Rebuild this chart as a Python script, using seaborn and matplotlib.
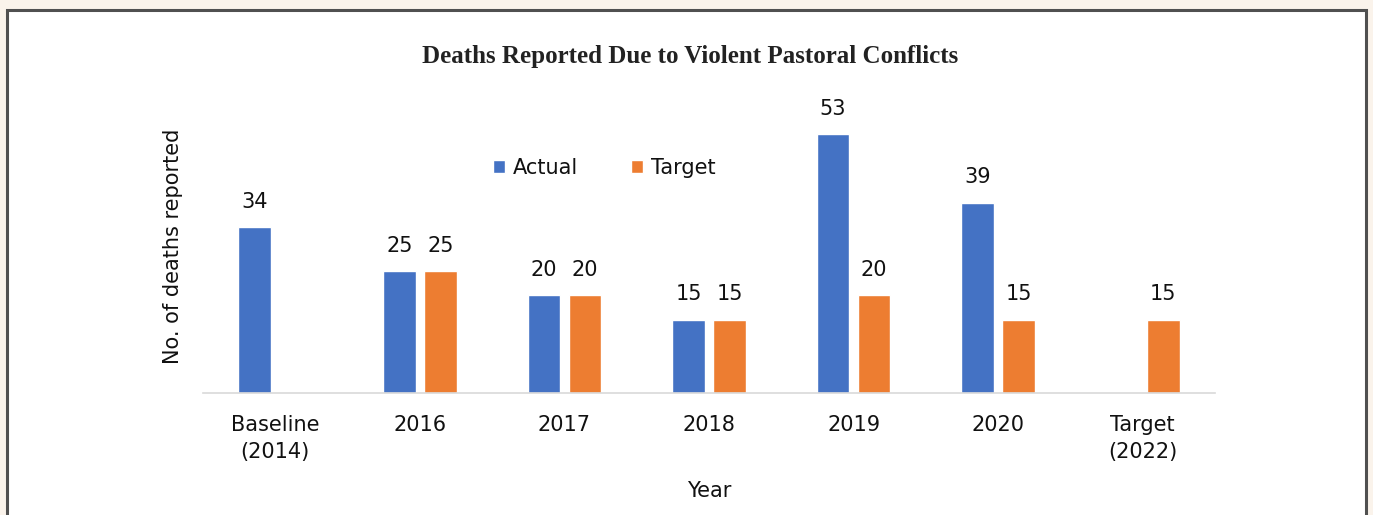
import matplotlib
matplotlib.use("Agg")
import matplotlib.pyplot as plt
import matplotlib.patches as mpatches
import seaborn as sns
import pandas as pd

categories = ["Baseline\n(2014)", "2016", "2017", "2018", "2019", "2020", "Target\n(2022)"]
actual = [34, 25, 20, 15, 53, 39, None]
target = [None, 25, 20, 15, 20, 15, 15]
series_names = ["Actual", "Target"]
colors = {"Actual": "#4472C4", "Target": "#ED7D31"}

rows = []
for cat, a, t in zip(categories, actual, target):
    if a is not None:
        rows.append({"Year": cat, "Series": "Actual", "Value": a})
    if t is not None:
        rows.append({"Year": cat, "Series": "Target", "Value": t})
df = pd.DataFrame(rows)

sns.set_theme(style="white")
plt.rcParams["font.family"] = ["DejaVu Sans"]

W, H = 1373, 515
fig = plt.figure(figsize=(W / 100, H / 100), dpi=100)
fig.patch.set_facecolor("#faf3eb")

# white panel with dark border
panel = mpatches.Rectangle((7 / W, -0.05), (1366 - 7) / W, 1 - 10 / H + 0.05,
                           transform=fig.transFigure, facecolor="white",
                           edgecolor="#505050", linewidth=2.2, zorder=-10)
fig.patches.append(panel)

ax = fig.add_axes([203 / W, 1 - 393 / H, (1215 - 203) / W, 293 / H], zorder=5)
ax.set_facecolor("none")

sns.barplot(data=df, x="Year", y="Value", hue="Series", order=categories,
            hue_order=series_names, palette=colors, width=0.567, gap=0.2,
            saturation=1, ax=ax, legend=True)

ax.set_ylim(0, 60)
ax.set_xlim(-0.5, len(categories) - 0.5)
for c in ax.containers:
    ax.bar_label(c, fmt="%d", padding=11, fontsize=15, color="#111111")

for s in ["top", "right", "left"]:
    ax.spines[s].set_visible(False)
ax.spines["bottom"].set_color("#d9d9d9")
ax.spines["bottom"].set_linewidth(1.2)
ax.set_yticks([])
ax.set_xticks(range(len(categories)))
ax.set_xticklabels(categories, linespacing=1.45)
ax.tick_params(axis="x", length=0, pad=16, labelsize=15, labelcolor="#111111")

ax.set_ylabel("No. of deaths reported", fontsize=15, color="#111111")
ax.yaxis.set_label_coords(-0.02, 0.5)
ax.set_xlabel("Year", fontsize=15, color="#111111")
ax.xaxis.set_label_coords(0.5, -0.30)

leg = ax.legend(loc="center", bbox_to_anchor=(604 / W, 1 - 168 / H),
                bbox_transform=fig.transFigure, ncol=2, frameon=False,
                fontsize=15, handlelength=0.6, handleheight=0.6,
                handletextpad=0.35, columnspacing=2.55)
for t in leg.get_texts():
    t.set_color("#111111")

fig.text(690 / W, 1 - 57 / H, "Deaths Reported Due to Violent Pastoral Conflicts",
         ha="center", va="center", fontsize=18, fontweight="bold",
         family=["Liberation Serif"], color="#222222")

fig.savefig("out.png", dpi=100, facecolor=fig.get_facecolor())
